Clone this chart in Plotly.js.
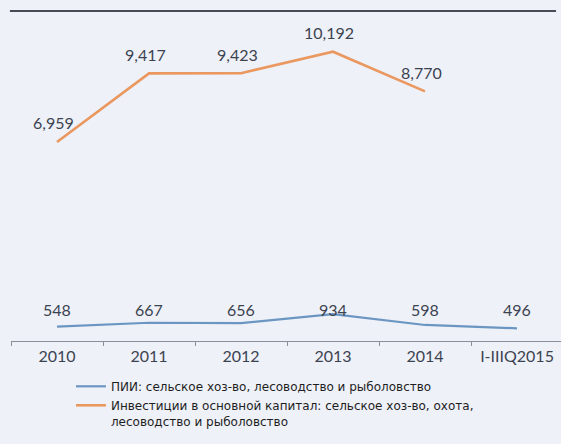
<!DOCTYPE html>
<html>
<head>
<meta charset="utf-8">
<script src="https://cdn.plot.ly/plotly-3.0.1.min.js"></script>
<style>
html,body{margin:0;padding:0;background:#eef1f8;}
#chart{width:561px;height:444px;}
</style>
</head>
<body>
<div id="chart"></div>
<script>
// ---- data ----
var categories = ['2010', '2011', '2012', '2013', '2014', 'I-IIIQ2015'];
var fdiValues = [548, 667, 656, 934, 598, 496];
var capitalCategories = ['2010', '2011', '2012', '2013', '2014'];
var capitalValues = [6959, 9417, 9423, 10192, 8770];
var fdiName = 'ПИИ: сельское хоз-во, лесоводство и рыболовство';
var capitalName = 'Инвестиции в основной капитал: сельское хоз-во, охота,<br>лесоводство и рыболовство';

function fmt(v) { return v.toLocaleString('en-US'); }

var labelFont = {family: 'Lato, sans-serif', size: 16, color: '#3c4350'};

var traces = [
  {
    x: categories, y: fdiValues, name: fdiName, type: 'scatter', mode: 'lines',
    yaxis: 'y2', line: {color: '#6b96c2', width: 2.2}, legendgroup: 'a', hoverinfo: 'x+y'
  },
  {
    x: capitalCategories, y: capitalValues, name: capitalName, type: 'scatter', mode: 'lines',
    line: {color: '#ea9860', width: 2.6}, legendgroup: 'b', hoverinfo: 'x+y'
  }
];

var annotations = [];
capitalCategories.forEach(function (c, i) {
  annotations.push({
    x: i, y: capitalValues[i], xref: 'x', yref: 'y', text: fmt(capitalValues[i]),
    showarrow: false, yanchor: 'middle', yshift: 19, xshift: -4, font: labelFont
  });
});
categories.forEach(function (c, i) {
  annotations.push({
    x: i, y: 0.0988, xref: 'x', yref: 'paper', text: fmt(fdiValues[i]),
    showarrow: false, yanchor: 'middle', font: labelFont
  });
});

var layout = {
  width: 561, height: 444,
  paper_bgcolor: '#eef1f8', plot_bgcolor: '#eef1f8',
  margin: {l: 11, r: 0, t: 20, b: 103},
  showlegend: true,
  legend: {
    x: 0.109, y: -0.0966, xanchor: 'left', yanchor: 'top',
    bgcolor: 'rgba(0,0,0,0)', font: {family: 'DejaVu Sans, sans-serif', size: 12, color: '#1e1e1e'},
    itemwidth: 30, tracegroupgap: 12, valign: 'top', traceorder: 'normal'
  },
  xaxis: {
    type: 'category', range: [-0.5, 5.478], showgrid: false, zeroline: false,
    showline: true, linecolor: '#8a8f98', linewidth: 1,
    ticks: 'outside', ticklen: 4, tickcolor: '#8a8f98', tickson: 'boundaries',
    ticklabelstandoff: 1,
    tickfont: {family: 'Lato, sans-serif', size: 16, color: '#3c4350'},
    fixedrange: true
  },
  yaxis: {range: [-172, 11329], visible: false, fixedrange: true},
  yaxis2: {range: [103, 10017], overlaying: 'y', visible: false, fixedrange: true},
  shapes: [
    {type: 'line', xref: 'paper', yref: 'paper', x0: -0.002, x1: 0.991, y0: 1.028, y1: 1.028,
     line: {color: '#474c57', width: 2}}
  ],
  annotations: annotations
};

Plotly.newPlot('chart', traces, layout, {displayModeBar: false, staticPlot: true});
</script>
</body>
</html>
